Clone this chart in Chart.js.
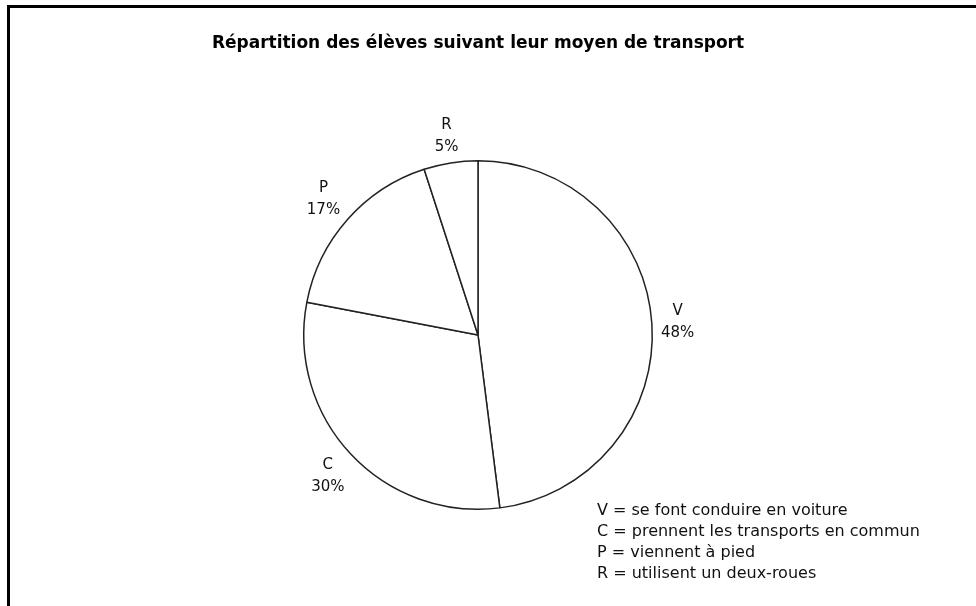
<!DOCTYPE html>
<html>
<head>
<meta charset="utf-8">
<script src="https://cdn.jsdelivr.net/npm/chart.js"></script>
<style>
  html, body { margin: 0; padding: 0; background: #fff; overflow: hidden; }
  #wrap { position: relative; width: 976px; height: 606px; }
</style>
</head>
<body>
<div id="wrap"><canvas id="myChart" width="976" height="606"></canvas></div>
<script>
// data
const categories = ['V', 'C', 'P', 'R'];
const shares = [48, 30, 17, 5];
const descriptions = [
  'se font conduire en voiture',
  'prennent les transports en commun',
  'viennent à pied',
  'utilisent un deux-roues'
];
const title = 'Répartition des élèves suivant leur moyen de transport';

const FONT = '"DejaVu Sans", Verdana, sans-serif';

// frame, title, slice labels and key are drawn by hand on the canvas
const decorations = {
  id: 'decorations',
  beforeDraw(chart) {
    const ctx = chart.ctx;
    ctx.save();
    ctx.strokeStyle = '#000';
    ctx.lineWidth = 3;
    ctx.beginPath();
    ctx.moveTo(8.5, 620);
    ctx.lineTo(8.5, 6.5);
    ctx.lineTo(990, 6.5);
    ctx.stroke();

    ctx.fillStyle = '#000';
    ctx.font = 'bold 17px ' + FONT;
    ctx.textAlign = 'center';
    ctx.textBaseline = 'middle';
    ctx.fillText(title, 478, 44);
    ctx.restore();
  },
  afterDatasetsDraw(chart) {
    const ctx = chart.ctx;
    const arcs = chart.getDatasetMeta(0).data;
    ctx.save();
    ctx.fillStyle = '#111';
    ctx.font = '15px ' + FONT;
    ctx.textAlign = 'center';
    ctx.textBaseline = 'middle';
    const lineH = 22;
    arcs.forEach((arc, i) => {
      const p = arc.getProps(['x', 'y', 'startAngle', 'endAngle', 'outerRadius'], true);
      const mid = (p.startAngle + p.endAngle) / 2;
      const l1 = categories[i];
      const l2 = shares[i] + '%';
      const w = Math.max(ctx.measureText(l1).width, ctx.measureText(l2).width);
      const h = lineH + 12;
      const c = Math.cos(mid), s = Math.sin(mid);
      const d = p.outerRadius + 8 + Math.abs(c) * w / 2 + Math.abs(s) * h / 2;
      const cx = p.x + c * d, cy = p.y + s * d;
      ctx.fillText(l1, cx, cy - lineH / 2);
      ctx.fillText(l2, cx, cy + lineH / 2);
    });

    ctx.font = '16px ' + FONT;
    ctx.textAlign = 'left';
    categories.forEach((cat, i) => {
      ctx.fillText(cat + ' = ' + descriptions[i], 597, 511 + i * 21);
    });
    ctx.restore();
  }
};

new Chart(document.getElementById('myChart'), {
  type: 'pie',
  data: {
    labels: categories,
    datasets: [{
      data: shares,
      backgroundColor: '#fff',
      borderColor: '#222',
      borderWidth: 1.5,
      borderAlign: 'center'
    }]
  },
  options: {
    responsive: false,
    animation: false,
    devicePixelRatio: 1,
    layout: { padding: { top: 160, bottom: 96, left: 303, right: 323 } },
    plugins: {
      legend: { display: false },
      title: { display: false },
      tooltip: { enabled: false }
    }
  },
  plugins: [decorations]
});
</script>
</body>
</html>
